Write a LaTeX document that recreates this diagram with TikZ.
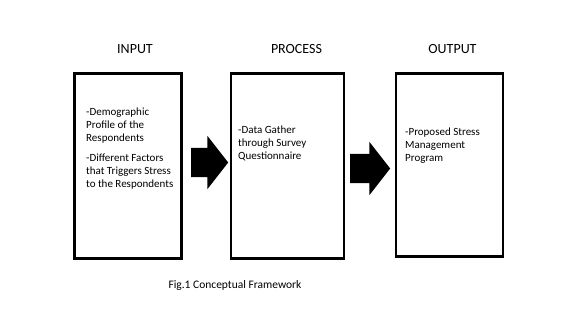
\documentclass[tikz,border=0pt]{standalone}
\usepackage{fontspec}
\setmainfont{Carlito}
\usetikzlibrary{positioning, shapes.arrows}

\begin{document}
\begin{tikzpicture}[
  x=1pt, y=-1pt,
  box/.style={rectangle, draw=black, line width=2.4pt, inner sep=0pt, minimum width=107pt, minimum height=185pt},
  heading/.style={font=\fontsize{14}{16}\selectfont},
  item/.style={anchor=north west, align=left, inner sep=0pt, font=\fontsize{11}{13}\selectfont},
  bigarrow/.style={single arrow, fill=black, anchor=tail, inner xsep=0pt, inner ysep=14.5pt, minimum height=37pt, single arrow head extend=12pt, single arrow tip angle=104},
  caption/.style={font=\fontsize{11.5}{13}\selectfont}
]
  \useasboundingbox (0,0) rectangle (563,318);

  % Boxes
  \node[box] (input) at (128,166) {};
  \node[box, minimum width=113pt] (process) at (287.5,166) {};
  \node[box, minimum height=183pt] (output) at (449.5,165) {};

  % Headings
  \node[heading, above=15pt of input, xshift=7pt] (inputhead) {INPUT};
  \node[heading, above=15pt of process, xshift=9pt] (processhead) {PROCESS};
  \node[heading, above=15pt of output, xshift=3pt] (outputhead) {OUTPUT};

  % Box texts
  \node[item] (inputtext) at (86,108) {-Demographic\\Profile of the\\Respondents\\[7pt]-Different Factors\\that Triggers Stress\\to the Respondents};
  \node[item] (processtext) at (238,126) {-Data Gather\\through Survey\\Questionnaire};
  \node[item] (outputtext) at (405,128) {-Proposed Stress\\Management\\Program};

  % Arrows
  \node[bigarrow] (arrowone) at (191,162.5) {};
  \node[bigarrow, minimum height=40pt] (arrowtwo) at (350,168.5) {};

  % Caption
  \node[caption] (figcaption) at (235,285) {Fig.1 Conceptual Framework};
\end{tikzpicture}
\end{document}
